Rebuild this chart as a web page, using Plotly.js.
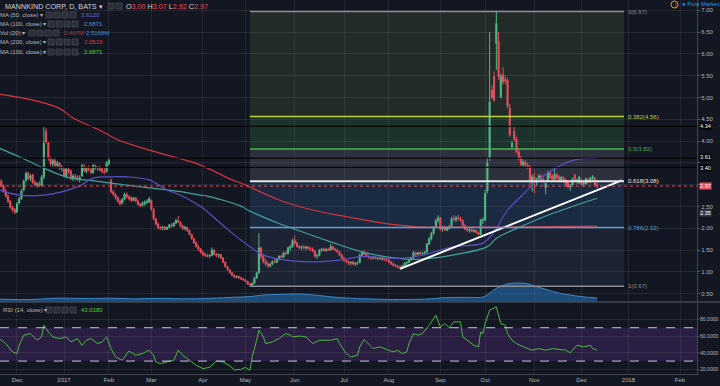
<!DOCTYPE html>
<html><head><meta charset="utf-8">
<script src="https://cdn.plot.ly/plotly-3.0.1.min.js"></script>
<style>html,body{margin:0;padding:0;background:#131722;}#chart{width:720px;height:386px;}</style>
</head><body><div id="chart"></div>
<script>
// ---------- DATA ----------
const HOLIDAYS = ['2016-11-24','2016-12-26','2017-01-02','2017-01-16','2017-02-20','2017-04-14','2017-05-29','2017-07-04','2017-09-04','2017-11-23'];
const FIRST_DAY = '2016-11-18';

const open = [
 3.15,3.08,2.98,2.85,2.74,2.62,2.48,2.44,
 2.38,2.58,2.68,2.88,3.10,3.26,3.14,3.22,3.05,3.00,3.02,2.98,3.18,4.22,3.96,3.60,3.48,3.55,3.44,3.50,3.38,
 3.36,3.20,3.36,3.32,3.14,3.20,3.18,3.12,3.20,3.42,3.30,3.38,3.34,3.28,3.44,3.38,3.40,3.36,3.30,3.30,
 3.48,3.10,2.84,2.78,2.70,2.62,2.58,2.66,2.78,2.72,2.70,2.64,2.70,2.62,2.55,2.52,2.56,2.60,2.60,
 2.64,2.44,2.22,2.10,2.02,2.00,2.03,1.98,2.02,2.08,2.05,2.12,2.18,2.14,2.05,2.00,2.02,1.95,1.86,1.76,1.67,1.58,1.52,
 1.45,1.40,1.38,1.36,1.38,1.50,1.40,1.38,1.40,1.32,1.22,1.12,1.05,0.98,0.92,0.88,0.90,0.86,0.84,
 0.82,0.78,0.72,0.70,0.74,0.86,0.98,1.55,1.35,1.24,1.18,1.14,1.18,1.24,1.22,1.30,1.36,1.34,1.44,1.42,1.55,1.58,
 1.72,1.66,1.58,1.56,1.58,1.55,1.57,1.54,1.52,1.48,1.36,1.38,1.50,1.52,1.49,1.52,1.50,1.58,1.52,1.50,1.46,1.38,
 1.32,1.26,1.24,1.20,1.22,1.18,1.20,1.21,1.38,1.44,1.41,1.36,1.33,1.32,1.34,1.31,1.32,1.30,1.31,1.28,
 1.27,1.22,1.18,1.15,1.13,1.11,1.10,1.14,1.20,1.22,1.28,1.32,1.44,1.40,1.44,1.42,1.43,1.45,1.64,1.76,1.88,2.02,2.18,
 2.24,1.98,2.02,1.96,2.00,2.04,2.22,2.20,2.24,2.22,2.18,2.06,1.98,1.95,1.97,1.93,1.95,1.90,1.86,2.18,
 2.20,2.86,3.62,5.17,5.48,6.24,6.28,5.02,5.52,5.42,5.40,4.76,3.87,4.22,4.05,3.75,3.62,3.46,3.52,3.44,3.42,3.06,
 3.18,3.05,3.12,3.20,3.12,2.93,3.08,3.28,3.20,3.12,3.24,3.18,3.10,3.16,3.10,3.05,2.95,3.00,3.22,3.08,3.04,
 3.11,3.02,3.02,3.12,3.06,3.14,3.15,3.00];
const high = [
 3.20,3.12,3.00,2.90,2.78,2.65,2.52,2.46,
 2.60,2.72,2.90,3.12,3.30,3.30,3.25,3.25,3.10,3.06,3.08,3.22,4.33,4.30,3.98,3.65,3.60,3.62,3.55,3.52,3.45,
 3.40,3.40,3.40,3.35,3.24,3.25,3.22,3.22,3.48,3.48,3.42,3.44,3.40,3.48,3.46,3.42,3.44,3.40,3.38,3.54,
 3.63,3.14,2.88,2.80,2.74,2.66,2.70,2.82,2.82,2.76,2.74,2.72,2.72,2.66,2.58,2.62,2.64,2.66,2.72,
 2.66,2.46,2.24,2.14,2.06,2.06,2.05,2.04,2.10,2.12,2.14,2.22,2.28,2.16,2.08,2.06,2.04,1.97,1.88,1.78,1.70,1.62,1.55,
 1.48,1.44,1.42,1.40,1.56,1.52,1.44,1.42,1.41,1.34,1.24,1.14,1.07,1.00,0.95,0.92,0.91,0.89,0.87,
 0.84,0.80,0.75,0.76,0.88,1.00,1.89,1.58,1.40,1.30,1.24,1.20,1.26,1.30,1.32,1.38,1.40,1.46,1.48,1.58,1.62,1.76,
 1.83,1.70,1.62,1.60,1.61,1.59,1.60,1.58,1.56,1.50,1.40,1.52,1.55,1.56,1.54,1.55,1.64,1.60,1.55,1.53,1.48,1.42,
 1.34,1.30,1.26,1.24,1.25,1.22,1.24,1.42,1.48,1.50,1.44,1.38,1.36,1.36,1.37,1.35,1.36,1.34,1.33,1.32,
 1.30,1.25,1.22,1.18,1.16,1.14,1.16,1.22,1.24,1.30,1.34,1.48,1.46,1.46,1.47,1.46,1.48,1.66,1.80,1.92,2.05,2.22,2.30,
 2.26,2.06,2.06,2.04,2.08,2.26,2.30,2.28,2.31,2.27,2.20,2.10,2.02,2.00,2.00,1.98,1.97,1.92,2.22,2.25,
 2.88,3.62,6.50,5.28,5.60,6.97,6.50,5.55,5.70,5.50,5.45,4.85,4.00,4.35,4.10,3.80,3.66,3.58,3.56,3.50,3.45,3.24,
 3.28,3.16,3.24,3.24,3.16,3.05,3.32,3.30,3.24,3.36,3.26,3.22,3.20,3.19,3.14,3.08,3.02,3.16,3.26,3.14,3.20,
 3.14,3.08,3.16,3.14,3.18,3.22,3.17,3.07];
const low = [
 3.02,2.95,2.82,2.70,2.58,2.45,2.38,2.33,
 2.35,2.55,2.65,2.85,3.05,3.10,3.08,3.02,2.96,2.94,2.95,2.96,3.12,3.95,3.55,3.42,3.40,3.40,3.38,3.34,3.30,
 3.18,3.15,3.25,3.10,3.08,3.10,3.08,3.05,3.18,3.28,3.26,3.30,3.24,3.25,3.34,3.32,3.30,3.26,3.24,3.28,
 3.44,2.80,2.74,2.66,2.58,2.52,2.55,2.64,2.68,2.64,2.60,2.62,2.60,2.52,2.48,2.50,2.52,2.55,2.58,
 2.40,2.18,2.06,1.98,1.96,1.95,1.95,1.96,2.00,2.02,2.03,2.10,2.12,2.02,1.96,1.95,1.92,1.84,1.74,1.64,1.56,1.48,1.42,
 1.36,1.34,1.33,1.32,1.36,1.38,1.34,1.32,1.30,1.20,1.10,1.03,0.96,0.90,0.86,0.85,0.84,0.82,0.80,
 0.76,0.70,0.67,0.68,0.73,0.84,0.96,1.30,1.20,1.14,1.10,1.10,1.15,1.20,1.20,1.26,1.30,1.32,1.38,1.40,1.48,1.55,
 1.62,1.56,1.52,1.50,1.52,1.50,1.51,1.48,1.45,1.33,1.30,1.36,1.46,1.47,1.46,1.48,1.49,1.50,1.47,1.44,1.36,1.30,
 1.24,1.20,1.16,1.15,1.16,1.14,1.16,1.20,1.35,1.38,1.34,1.30,1.28,1.28,1.29,1.27,1.28,1.26,1.25,1.24,
 1.20,1.16,1.13,1.10,1.08,1.07,1.08,1.12,1.16,1.20,1.25,1.30,1.36,1.38,1.38,1.39,1.40,1.44,1.62,1.72,1.85,2.00,2.12,
 1.94,1.92,1.94,1.93,1.96,2.02,2.16,2.14,2.18,2.15,2.04,1.96,1.92,1.90,1.91,1.90,1.88,1.84,1.85,2.10,
 2.16,2.80,3.55,4.95,4.90,5.63,5.40,4.98,5.30,5.30,4.75,4.10,3.82,4.00,3.72,3.55,3.42,3.40,3.40,3.36,3.00,2.84,
 2.80,2.98,3.08,3.06,3.04,2.78,3.06,3.14,3.08,3.10,3.12,3.05,3.06,3.04,2.96,2.92,2.86,2.96,3.05,3.02,3.02,
 2.98,2.96,3.00,3.03,3.04,3.10,2.98,2.92];
const close = [
 3.08,2.98,2.85,2.74,2.62,2.48,2.42,2.36,
 2.56,2.68,2.86,3.08,3.26,3.14,3.20,3.05,3.00,3.02,2.98,3.18,3.95,3.98,3.60,3.48,3.55,3.44,3.50,3.38,3.40,
 3.20,3.36,3.30,3.14,3.20,3.18,3.12,3.16,3.44,3.32,3.38,3.36,3.28,3.44,3.38,3.40,3.34,3.30,3.28,3.50,
 3.56,2.84,2.78,2.70,2.62,2.56,2.66,2.78,2.72,2.68,2.64,2.70,2.62,2.55,2.52,2.58,2.60,2.62,2.68,
 2.44,2.22,2.10,2.02,2.00,2.03,1.98,2.02,2.08,2.05,2.12,2.18,2.14,2.05,2.00,2.02,1.95,1.86,1.76,1.67,1.58,1.52,1.45,
 1.40,1.38,1.36,1.38,1.50,1.40,1.38,1.40,1.32,1.22,1.12,1.05,0.98,0.92,0.88,0.90,0.86,0.84,0.82,
 0.78,0.72,0.70,0.74,0.86,0.97,1.55,1.35,1.24,1.18,1.14,1.18,1.24,1.22,1.30,1.36,1.34,1.44,1.42,1.55,1.58,1.72,
 1.66,1.58,1.56,1.58,1.55,1.57,1.54,1.52,1.48,1.36,1.38,1.50,1.52,1.49,1.52,1.50,1.58,1.52,1.50,1.46,1.38,1.32,
 1.26,1.24,1.20,1.22,1.18,1.20,1.21,1.38,1.44,1.41,1.36,1.33,1.32,1.34,1.31,1.32,1.30,1.31,1.28,1.27,
 1.22,1.18,1.15,1.13,1.11,1.10,1.14,1.20,1.22,1.28,1.32,1.44,1.40,1.44,1.42,1.43,1.45,1.64,1.76,1.88,2.02,2.18,2.24,
 1.98,2.02,1.96,2.00,2.04,2.22,2.20,2.24,2.22,2.18,2.06,1.98,1.95,1.97,1.93,1.95,1.90,1.86,2.18,2.20,
 2.80,3.50,4.90,5.00,4.94,6.70,5.48,5.48,5.36,5.38,4.80,4.14,3.95,4.05,3.75,3.60,3.46,3.52,3.44,3.42,3.06,3.18,
 3.05,3.12,3.20,3.10,3.08,3.03,3.28,3.16,3.12,3.24,3.16,3.08,3.17,3.08,3.00,2.95,2.98,3.12,3.08,3.10,3.17,
 3.00,3.04,3.14,3.05,3.16,3.18,3.00,2.97];

// Moving averages
const ma200Dates = ['2016-11-18','2016-12-12','2016-12-29','2017-01-09','2017-01-26','2017-02-07','2017-02-23','2017-03-10','2017-03-31','2017-04-21','2017-04-27','2017-05-22','2017-06-13','2017-07-05','2017-07-26','2017-08-16','2017-09-12','2017-10-11','2017-11-10','2017-12-12'];
const ma200Vals  = [5.08,4.94,4.75,4.53,4.25,4.03,3.84,3.68,3.45,3.11,3.04,2.65,2.42,2.27,2.13,2.04,2.03,2.03,2.04,2.05];
const ma100Dates = ['2016-11-18','2016-12-02','2016-12-19','2017-01-04','2017-01-26','2017-02-16','2017-03-10','2017-03-20','2017-03-31','2017-04-05','2017-04-27','2017-05-02','2017-05-22','2017-06-02','2017-06-23','2017-07-14','2017-08-07','2017-08-21','2017-09-12','2017-10-03','2017-10-09','2017-10-24','2017-11-13','2017-12-12'];
const ma100Vals  = [3.84,3.64,3.38,3.18,3.07,2.97,2.88,2.84,2.76,2.74,2.51,2.42,2.11,1.96,1.69,1.46,1.31,1.29,1.39,1.58,1.77,2.04,2.34,2.69];
const ma50Dates  = ['2016-11-18','2016-12-02','2016-12-19','2017-01-11','2017-01-23','2017-02-02','2017-02-13','2017-02-28','2017-03-10','2017-03-20','2017-03-31','2017-04-13','2017-04-27','2017-05-11','2017-05-25','2017-06-13','2017-06-29','2017-07-14','2017-08-07','2017-08-21','2017-09-12','2017-09-29','2017-10-06','2017-10-16','2017-10-24','2017-11-01','2017-11-13','2017-11-28','2017-12-12'];
const ma50Vals   = [2.88,2.76,2.76,2.95,3.15,3.18,3.18,3.11,2.88,2.76,2.50,2.11,1.73,1.39,1.27,1.23,1.27,1.35,1.31,1.37,1.58,1.66,1.92,2.42,2.73,3.03,3.34,3.57,3.61];

// Volume MA(20), millions
const volDates = ['2016-11-18','2016-12-12','2016-12-27','2017-01-19','2017-02-02','2017-02-16','2017-03-03','2017-03-24','2017-04-07','2017-04-24','2017-05-03','2017-05-11','2017-05-22','2017-06-06','2017-06-15','2017-06-27','2017-07-12','2017-08-02','2017-08-23','2017-09-07','2017-09-21','2017-09-29','2017-10-03','2017-10-09','2017-10-13','2017-10-23','2017-10-27','2017-11-02','2017-11-09','2017-11-16','2017-11-24','2017-12-01','2017-12-12'];
const volMA = [1.8,1.6,2.4,2.2,2.4,2.0,2.3,2.0,2.4,3.0,3.4,4.4,4.8,5.0,4.2,3.0,2.2,1.6,1.8,2.8,2.9,3.1,4.6,8.6,11.0,12.0,11.4,9.6,7.6,5.6,4.4,3.4,2.5];

// RSI(14)
const rsiDates = ['2016-11-18','2016-11-23','2016-11-29','2016-12-01','2016-12-02','2016-12-06','2016-12-09','2016-12-14','2016-12-16','2016-12-19','2016-12-21','2016-12-23','2016-12-29','2017-01-04','2017-01-06','2017-01-11','2017-01-13','2017-01-18','2017-01-20','2017-01-25','2017-01-27','2017-01-31','2017-02-02','2017-02-06','2017-02-09','2017-02-14','2017-02-17','2017-02-23','2017-02-28','2017-03-02','2017-03-03','2017-03-07','2017-03-10','2017-03-15','2017-03-17','2017-03-21','2017-03-24','2017-03-29','2017-04-03','2017-04-06','2017-04-11','2017-04-17','2017-04-20','2017-04-24','2017-04-27','2017-05-01','2017-05-03','2017-05-04','2017-05-08','2017-05-09','2017-05-11','2017-05-12','2017-05-17','2017-05-22','2017-05-25','2017-05-30','2017-05-31','2017-06-05','2017-06-08','2017-06-13','2017-06-16','2017-06-23','2017-06-28','2017-06-29','2017-07-05','2017-07-07','2017-07-12','2017-07-13','2017-07-17','2017-07-21','2017-07-26','2017-07-31','2017-08-03','2017-08-07','2017-08-09','2017-08-11','2017-08-14','2017-08-16','2017-08-18','2017-08-22','2017-08-25','2017-08-30','2017-09-01','2017-09-06','2017-09-08','2017-09-12','2017-09-15','2017-09-18','2017-09-20','2017-09-25','2017-09-27','2017-09-28','2017-09-29','2017-10-02','2017-10-04','2017-10-09','2017-10-11','2017-10-13','2017-10-16','2017-10-18','2017-10-20','2017-10-25','2017-10-31','2017-11-03','2017-11-08','2017-11-13','2017-11-16','2017-11-21','2017-11-24','2017-11-29','2017-12-04','2017-12-07','2017-12-08','2017-12-12'];
const rsiVals = [57,51,41,39,49,61,63,55,59,73,65,59,57,59,53,57,49,55,57,51,53,59,45,35,31,42,37,39,43,37,29,27,29,31,43,37,31,25,21,22.5,30,29,24.5,19.5,20,22.5,19,35,55,67,59,51,53,57,63,61,59,60,59,51,55,55,57,51,39,35,37,47,56,45,47,44,41,43,39,41,51,63,61,63,73,85,71,75,70,77,77,59,55,49,47,65,63,75,91,95,75,73,63,55,51,47,43,45,43,45,44,43,40,49,47,49,45,43.02];

// Drawings
const trendDates = ['2017-08-08','2017-12-27'];
const trendPrices = [1.07,3.10];
const fibStart = '2017-05-03', fibEnd = '2017-12-28';
const fibHigh = 6.97, fibLow = 0.67;
const fibLevels = [0, 0.382, 0.5, 0.618, 0.786, 1];
const hLines = [4.34, 3.61, 3.40];
const lastPrice = 2.97;
const priceTicks = [0.5,1.0,1.5,2.0,2.5,3.0,3.5,4.0,4.5,5.0,5.5,6.0,6.5,7.0];
const priceTickText = ['0.50','1.00','1.50','2.00','2.50','','','4.00','4.50','5.00','5.50','6.00','6.50','7.00'];
const monthTicks = ['2016-12-01','2017-01-03','2017-02-01','2017-03-01','2017-04-03','2017-05-01','2017-06-01','2017-07-03','2017-08-01','2017-09-01','2017-10-02','2017-11-01','2017-12-01','2018-01-01','2018-02-01'];
const monthLabels = ['Dec','2017','Feb','Mar','Apr','May','Jun','Jul','Aug','Sep','Oct','Nov','Dec','2018','Feb'];

// ---------- BUILD ----------
function tradingDays(start, n){
  const out=[]; const d=new Date(start+'T00:00:00Z');
  while(out.length<n){
    const s=d.toISOString().slice(0,10), wd=d.getUTCDay();
    if(wd!==0 && wd!==6 && !HOLIDAYS.includes(s)) out.push(s);
    d.setUTCDate(d.getUTCDate()+1);
  }
  return out;
}
const dates = tradingDays(FIRST_DAY, close.length);

const BG='#131722', TXT='#b2b5be', GRID='rgba(120,123,134,0.18)';
const FONT='Liberation Sans, Arial, sans-serif';
const PW=697, PH=374;

const traces = [
  {type:'scatter', x:volDates, y:volMA, yaxis:'y3', mode:'lines', line:{color:'#3d86c6', width:1, shape:'spline'},
   fill:'tozeroy', fillcolor:'rgba(36,112,180,0.6)', hoverinfo:'skip'},
  {type:'candlestick', x:dates, open:open, high:high, low:low, close:close, xaxis:'x', yaxis:'y',
   increasing:{line:{color:'#53b987', width:1}, fillcolor:'#53b987'},
   decreasing:{line:{color:'#eb4d5c', width:1}, fillcolor:'#eb4d5c'}, whiskerwidth:0},
  {type:'scatter', x:ma200Dates, y:ma200Vals, mode:'lines', line:{color:'#d4343f', width:1.2, shape:'spline'}},
  {type:'scatter', x:ma100Dates, y:ma100Vals, mode:'lines', line:{color:'#3fa39a', width:1.2, shape:'spline'}},
  {type:'scatter', x:ma50Dates, y:ma50Vals, mode:'lines', line:{color:'#5b4fc2', width:1.2, shape:'spline'}},
  {type:'scatter', x:trendDates, y:trendPrices, mode:'lines', line:{color:'#ffffff', width:2}},
  {type:'scatter', x:rsiDates, y:rsiVals, xaxis:'x', yaxis:'y2', mode:'lines', line:{color:'#4cb83f', width:1}}
];

const fibVal = l => fibHigh - l*(fibHigh-fibLow);
const fibLineColors = ['#8a8d96','#b9d23c','#4caf50','#e6e6e6','#5b9bd5','#8a8d96'];
const fibFills = ['rgba(110,140,70,0.18)','rgba(60,160,90,0.2)','rgba(140,140,160,0.22)','rgba(50,120,190,0.2)','rgba(80,110,150,0.15)'];

const shapes = [];
shapes.push({type:'rect', xref:'paper', x0:0, x1:1, yref:'y2', y0:30, y1:70, fillcolor:'#2a1f43', line:{width:0}, layer:'below'});
[70,30].forEach(v=>shapes.push({type:'line', xref:'paper', x0:0, x1:1, yref:'y2', y0:v, y1:v, line:{color:'#c9c6d8', width:1, dash:'dash'}}));
for(let i=0;i<fibLevels.length-1;i++){
  shapes.push({type:'rect', xref:'x', x0:fibStart, x1:fibEnd, yref:'y', y0:fibVal(fibLevels[i]), y1:fibVal(fibLevels[i+1]),
    fillcolor:fibFills[i], line:{width:0}, layer:'below'});
}
fibLevels.forEach((l,i)=>shapes.push({type:'line', xref:'x', x0:fibStart, x1:fibEnd, yref:'y', y0:fibVal(l), y1:fibVal(l),
  line:{color:fibLineColors[i], width:(l===0.618?2:1.5)}}));
hLines.forEach(v=>shapes.push({type:'line', xref:'paper', x0:0, x1:1, yref:'y', y0:v, y1:v, line:{color:'#000000', width:1}}));
shapes.push({type:'line', xref:'paper', x0:0, x1:1, yref:'y', y0:lastPrice, y1:lastPrice, line:{color:'#eb4d5c', width:1, dash:'dot'}});
shapes.push({type:'line', xref:'paper', x0:0, x1:1.04, yref:'paper', y0:0.1925, y1:0.1925, line:{color:'#434651', width:1.5}});

function icons(px, py, n){
  for(let i=0;i<n;i++){
    const x0=(px+i*8)/PW, y0=1-(py-3)/PH;
    shapes.push({type:'rect', xref:'paper', yref:'paper', x0:x0, x1:x0+6/PW, y0:y0, y1:y0-6/PH,
      fillcolor:'#2a2e39', line:{color:'#4a4e5a', width:0.7}});
  }
}
icons(108,6,2); icons(46,15,4); icons(48,24,4); icons(29,33,4); icons(48,42,4); icons(48,52,4); icons(46,310,4);
shapes.push({type:'circle', xref:'paper', yref:'paper', x0:671/PW, x1:678/PW, y0:1-1/PH, y1:1-8/PH, line:{color:'#f7931a', width:1}});

const annotations = [];
function lbl(text, px, py, size, color){
  annotations.push({text:text, xref:'paper', yref:'paper', x:0, y:1, xanchor:'left', yanchor:'middle',
    xshift:px, yshift:-py, showarrow:false, font:{family:FONT, size:size, color:color}});
}
const R='#eb4d5c';
lbl('MANNKIND CORP, D, BATS ▾', 3, 6, 7.2, '#d1d4dc');
lbl(`O<span style="color:${R}">3.00</span> H<span style="color:${R}">3.07</span> L<span style="color:${R}">2.92</span> C<span style="color:${R}">2.97</span>`, 124, 6, 7.2, '#d1d4dc');
lbl('MA (50, close) ▾', -2, 15, 6, TXT);   lbl('3.6120', 79, 15, 6, '#7565d8');
lbl('MA (100, close) ▾', -2, 24, 6, TXT);  lbl('2.6871', 82, 24, 6, '#4f95d6');
lbl('Vol (20) ▾', -2, 33, 6, TXT);         lbl('2.407M', 62, 33, 6, '#a8343c'); lbl('2.5168M', 84, 33, 6, '#3d8bd9');
lbl('MA (200, close) ▾', -2, 42, 6, TXT);  lbl('2.0519', 82, 42, 6, '#e0353f');
lbl('MA (100, close) ▾', -2, 52, 6, TXT);  lbl('2.6871', 82, 52, 6, '#4cd137');
lbl('RSI (14, close) ▾', 1, 310, 6, TXT);  lbl('43.0180', 79, 310, 6, '#4cd137');
lbl('!', 673, 4.5, 5, '#f7931a');
lbl('● Post Market', 680, 4, 6, '#2196f3');

fibLevels.forEach((l,i)=>annotations.push({text:`${l}(${fibVal(l).toFixed(2)})`, xref:'x', x:fibEnd, yref:'y', y:fibVal(l),
  xanchor:'left', yanchor:'middle', xshift:2, showarrow:false, font:{family:FONT, size:6, color:fibLineColors[i]}}));

function axLbl(v, bg, fg, dy){
  annotations.push({text:v.toFixed(2), xref:'paper', x:1, xanchor:'left', xshift:2, yref:'y', y:v, yanchor:'middle', yshift:dy||0,
    showarrow:false, bgcolor:bg, borderpad:0, font:{family:FONT, size:5.6, color:fg}});
}
axLbl(4.34,'#000000','#ffffff'); axLbl(3.61,'#000000','#ffffff',1); axLbl(3.40,'#000000','#ffffff',-0.5);
axLbl(lastPrice, R, '#ffffff');
axLbl(2.35, '#363a45', '#ffffff');

const layout = {
  width:720, height:386, paper_bgcolor:BG, plot_bgcolor:BG, showlegend:false,
  margin:{l:0, r:23, t:0, b:12}, font:{family:FONT, color:TXT, size:6},
  xaxis:{type:'date', anchor:'y2', range:['2016-11-18 10:00','2018-02-12 14:00'],
    rangebreaks:[{bounds:['sat','mon']},{values:HOLIDAYS}], rangeslider:{visible:false},
    tickmode:'array', tickvals:monthTicks, ticktext:monthLabels, tickfont:{size:6, color:TXT},
    showgrid:true, gridcolor:GRID, gridwidth:1, zeroline:false, showline:true, linecolor:'#434651', ticks:''},
  yaxis:{domain:[0.1925,1], range:[0.31,7.236], side:'right', tickmode:'array', tickvals:priceTicks, ticktext:priceTickText,
    showgrid:true, gridcolor:GRID, zeroline:false, showline:true, linecolor:'#434651', ticks:'outside', ticklen:2, tickcolor:'#555a66',
    tickfont:{size:6, color:TXT}},
  yaxis2:{domain:[0,0.1895], range:[14.5,99.5], side:'right', tickmode:'array', tickvals:[20,40,60,80],
    ticktext:['20.0000','40.0000','60.0000','80.0000'], showgrid:true, gridcolor:GRID, zeroline:false,
    showline:true, linecolor:'#434651', ticks:'outside', ticklen:1, tickcolor:'#555a66', tickfont:{size:5.1, color:TXT}},
  yaxis3:{domain:[0.1925,1], overlaying:'y', range:[0,190], visible:false},
  shapes:shapes, annotations:annotations
};
Plotly.newPlot('chart', traces, layout, {staticPlot:true, displayModeBar:false});
</script></body></html>
